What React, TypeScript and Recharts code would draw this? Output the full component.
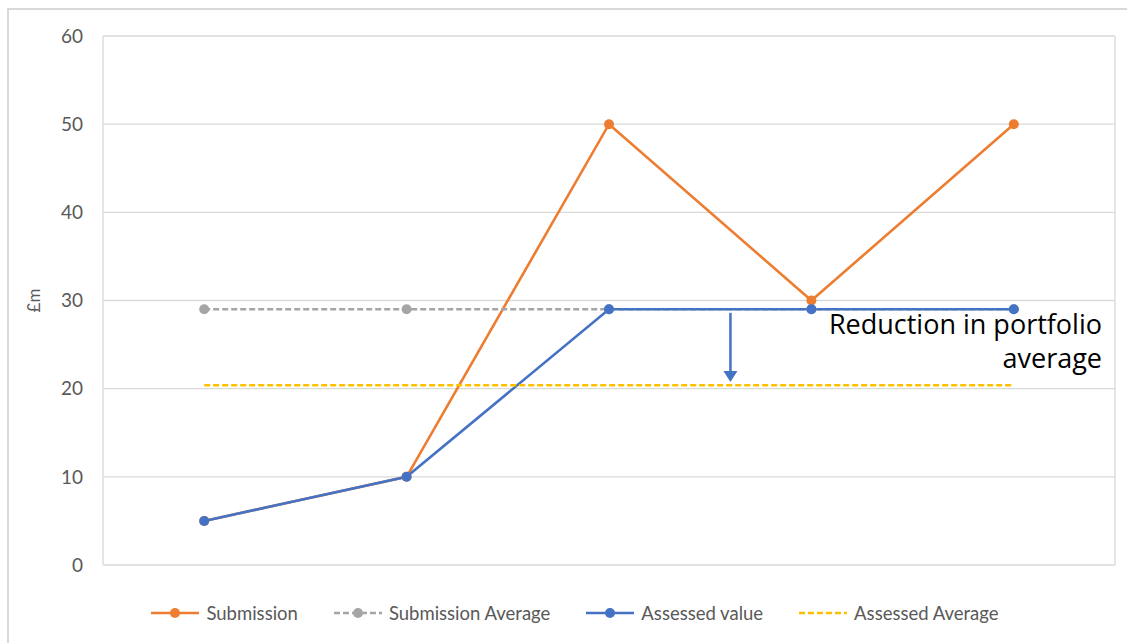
import React from 'react';
import { LineChart, Line, XAxis, YAxis, CartesianGrid, ReferenceLine, Label } from 'recharts';

// Five portfolio items, plotted at the centre of each band
const items = ['A', 'B', 'C', 'D', 'E'];
const submission = [5, 10, 50, 30, 50];
const submissionAverage = [29, 29, 29, 29, 29];
const assessedValue = [5, 10, 29, 29, 29];
const assessedAverage = [20.4, 20.4, 20.4, 20.4, 20.4];
const yTicks = [0, 10, 20, 30, 40, 50, 60];
const bandEdges = [0, 1, 2, 3, 4, 5];

const ORANGE = '#ed7d31';
const GREY = '#a5a5a5';
const BLUE = '#4472c4';
const YELLOW = '#ffc000';
const FONT = 'Lato, "Open Sans", sans-serif';

const data = items.map((name, i) => ({
  name,
  x: i + 0.5,
  submission: submission[i],
  submissionAverage: submissionAverage[i],
  assessedValue: assessedValue[i],
  assessedAverage: assessedAverage[i],
}));

// Arrow showing the drop from the submission average to the assessed average
const arrowX = 3.1;
const arrowFrom = 28.6;
const arrowTo = 20.75;

const ArrowShape = (props: any) => {
  const { x1, y1, x2, y2 } = props;
  const head = 11;
  return (
    <g>
      <line x1={x1} y1={y1} x2={x2} y2={y2 - head} stroke={BLUE} strokeWidth={2.5} />
      <polygon points={`${x2 - 7},${y2 - head} ${x2 + 7},${y2 - head} ${x2},${y2}`} fill={BLUE} />
    </g>
  );
};

type LegendItem = { label: string; color: string; dashed: boolean; marker: boolean };
const legendItems: LegendItem[] = [
  { label: 'Submission', color: ORANGE, dashed: false, marker: true },
  { label: 'Submission Average', color: GREY, dashed: true, marker: true },
  { label: 'Assessed value', color: BLUE, dashed: false, marker: true },
  { label: 'Assessed Average', color: YELLOW, dashed: true, marker: false },
];

const LegendIcon = ({ item }: { item: LegendItem }) => (
  <svg width={50} height={14} style={{ marginRight: 6 }}>
    <line
      x1={1}
      y1={7}
      x2={49}
      y2={7}
      stroke={item.color}
      strokeWidth={2.5}
      strokeDasharray={item.dashed ? '6 3' : undefined}
    />
    {item.marker && <circle cx={25} cy={7} r={5} fill={item.color} />}
  </svg>
);

export default function App() {
  return (
    <div
      style={{
        position: 'absolute',
        left: 0,
        top: 0,
        width: 1127,
        height: 643,
        overflow: 'hidden',
        background: '#fff',
        fontFamily: FONT,
      }}
    >
      <div
        style={{
          position: 'absolute',
          left: 7,
          top: 8,
          width: 1300,
          height: 800,
          border: '2px solid #d9d9d9',
          boxSizing: 'border-box',
        }}
      />
      <div style={{ position: 'absolute', left: 0, top: 0 }}>
        <LineChart width={1127} height={643} data={data} margin={{ top: 36, right: 12, bottom: 78, left: 0 }}>
          <CartesianGrid stroke="#d9d9d9" strokeWidth={1.3} />
          <XAxis
            dataKey="x"
            type="number"
            domain={[0, 5]}
            ticks={bandEdges}
            tick={false}
            tickLine={false}
            axisLine={false}
            height={0}
          />
          <YAxis
            domain={[0, 60]}
            ticks={yTicks}
            width={103}
            tickLine={false}
            axisLine={false}
            tickSize={0}
            tickMargin={20}
            tick={{ fill: '#595959', fontSize: 19, fontFamily: FONT }}
          >
            <Label
              value="£m"
              angle={-90}
              position="insideLeft"
              offset={34}
              style={{ fill: '#595959', fontSize: 17, fontFamily: FONT, textAnchor: 'middle' }}
            />
          </YAxis>
          <Line
            dataKey="submission"
            stroke={ORANGE}
            strokeWidth={2.6}
            dot={{ r: 5, fill: ORANGE, stroke: ORANGE, strokeWidth: 0 }}
            isAnimationActive={false}
          />
          <Line
            dataKey="submissionAverage"
            stroke={GREY}
            strokeWidth={2.5}
            strokeDasharray="6 3"
            dot={{ r: 5, fill: GREY, stroke: GREY, strokeWidth: 0 }}
            isAnimationActive={false}
          />
          <Line
            dataKey="assessedValue"
            stroke={BLUE}
            strokeWidth={2.6}
            dot={{ r: 5, fill: BLUE, stroke: BLUE, strokeWidth: 0 }}
            isAnimationActive={false}
          />
          <Line
            dataKey="assessedAverage"
            stroke={YELLOW}
            strokeWidth={2.5}
            strokeDasharray="6 3"
            dot={false}
            isAnimationActive={false}
          />
          <ReferenceLine
            segment={[
              { x: arrowX, y: arrowFrom },
              { x: arrowX, y: arrowTo },
            ]}
            shape={ArrowShape}
          />
        </LineChart>
      </div>
      <div
        style={{
          position: 'absolute',
          right: 25,
          top: 307,
          textAlign: 'right',
          fontSize: 27,
          lineHeight: '34px',
          color: '#000',
          fontFamily: '"Open Sans", sans-serif',
        }}
      >
        Reduction in portfolio
        <br />
        average
      </div>
      <div
        style={{
          position: 'absolute',
          left: 0,
          width: 1127,
          top: 602,
          display: 'flex',
          justifyContent: 'center',
          gap: 35,
          paddingLeft: 22,
          boxSizing: 'border-box',
          fontSize: 18.5,
          color: '#595959',
          fontFamily: FONT,
        }}
      >
        {legendItems.map((item) => (
          <div key={item.label} style={{ display: 'flex', alignItems: 'center' }}>
            <LegendIcon item={item} />
            <span>{item.label}</span>
          </div>
        ))}
      </div>
    </div>
  );
}
